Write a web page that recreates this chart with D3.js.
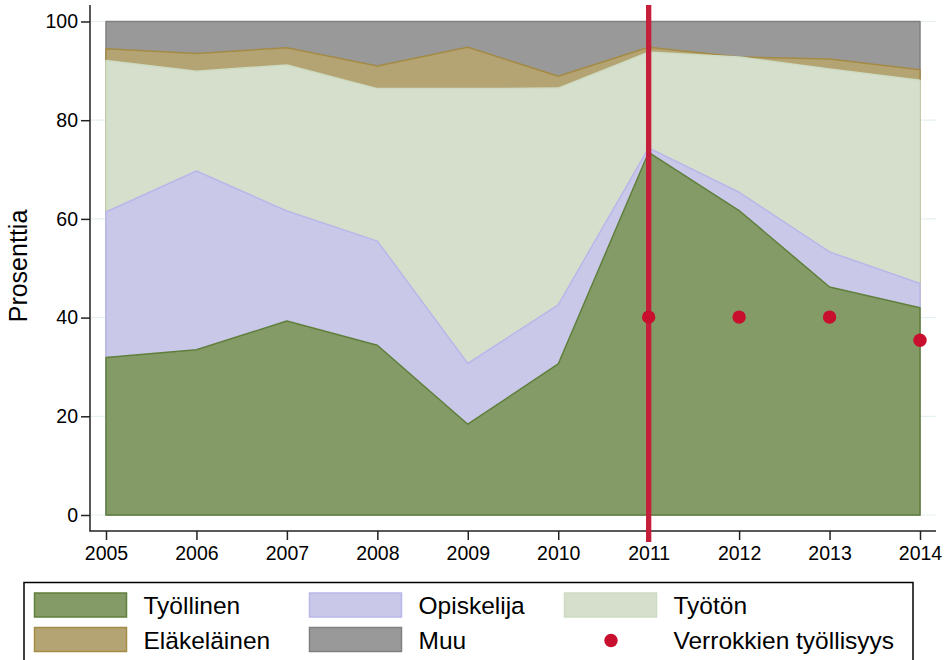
<!DOCTYPE html>
<html>
<head>
<meta charset="utf-8">
<script src="https://cdn.jsdelivr.net/npm/d3@7"></script>
<style>
  body { margin: 0; background: #fff; }
  text { font-family: "Liberation Sans", Arial, sans-serif; fill: #000; }
</style>
</head>
<body>
<svg id="chart" width="944" height="660"></svg>
<script>
// data
const years = [2005, 2006, 2007, 2008, 2009, 2010, 2011, 2012, 2013, 2014];
const tyollinen   = [31.9, 33.5, 39.3, 34.4, 18.4, 30.6, 73.5, 61.7, 46.2, 42.0];
const opiskelija  = [29.5, 36.2, 22.3, 21.1, 12.3, 12.0, 0.9, 3.7, 7.1, 4.9];
const tyoton      = [30.7, 20.2, 29.6, 30.9, 55.7, 43.9, 19.4, 27.4, 37.1, 41.2];
const elakelainen = [2.4, 3.6, 3.5, 4.6, 8.4, 2.4, 1.0, 0.0, 2.0, 2.1];
const muu         = [5.5, 6.5, 5.3, 9.0, 5.2, 11.1, 5.2, 7.2, 7.6, 9.8];

const verrokkiYears = [2011, 2012, 2013, 2014];
const verrokki = [40.1, 40.1, 40.1, 35.4];
const refYear = 2011;

const yTicks = [0, 20, 40, 60, 80, 100];

const series = [
  { key: "tyollinen", label: "Työllinen", values: tyollinen, fill: "#849b68", stroke: "#5f7f3b" },
  { key: "opiskelija", label: "Opiskelija", values: opiskelija, fill: "#c9c8e8", stroke: "#b9b7ea" },
  { key: "tyoton", label: "Työtön", values: tyoton, fill: "#d6dfcc", stroke: "#cddbc2" },
  { key: "elakelainen", label: "Eläkeläinen", values: elakelainen, fill: "#b5a473", stroke: "#a48b45" },
  { key: "muu", label: "Muu", values: muu, fill: "#999999", stroke: "#808080" }
];

const svg = d3.select("#chart");

const x = d3.scaleLinear().domain([2005, 2014]).range([106, 920]);
const y = d3.scaleLinear().domain([0, 100]).range([515, 21.5]);

// table for the stack
const table = years.map((yr, i) => {
  const row = { year: yr };
  series.forEach(s => row[s.key] = s.values[i]);
  return row;
});
const stacked = d3.stack().keys(series.map(s => s.key))(table);

// grid lines
svg.append("g").selectAll("line")
  .data(yTicks).enter().append("line")
  .attr("x1", 90).attr("x2", 936)
  .attr("y1", d => y(d)).attr("y2", d => y(d))
  .attr("stroke", "#e6eff1").attr("stroke-width", 1.2);

// areas, stata style: each goes from 0 to the cumulated value, drawn top one first
const area = d3.area()
  .x(d => x(d.data.year))
  .y0(y(0))
  .y1(d => y(d[1]));

const layers = stacked.map((st, i) => ({ st: st, s: series[i] })).reverse();
svg.append("g").selectAll("path")
  .data(layers).enter().append("path")
  .attr("d", d => area(d.st))
  .attr("fill", d => d.s.fill)
  .attr("stroke", d => d.s.stroke)
  .attr("stroke-width", 1.5)
  .attr("stroke-linejoin", "round");

// axes
const yAxis = d3.axisLeft(y).tickValues(yTicks).tickSize(9).tickPadding(3);
const gy = svg.append("g").attr("transform", "translate(90,0)").call(yAxis);
gy.select(".domain").attr("d", "M0,5V531").attr("stroke", "#222").attr("stroke-width", 1.5);

const xAxis = d3.axisBottom(x).tickValues(years).tickFormat(d3.format("d")).tickSize(9).tickPadding(6);
const gx = svg.append("g").attr("transform", "translate(0,531)").call(xAxis);
gx.select(".domain").attr("d", "M89.25,0H936").attr("stroke", "#222").attr("stroke-width", 1.5);

[gx, gy].forEach(g => {
  g.selectAll(".tick line").attr("stroke", "#222").attr("stroke-width", 1.5);
  g.selectAll(".tick text").style("font-size", "19.5px").attr("fill", "#000");
});

// y title
svg.append("text")
  .attr("transform", "translate(27,266) rotate(-90)")
  .attr("text-anchor", "middle")
  .style("font-size", "25px")
  .text("Prosenttia");

// reference line
svg.append("line")
  .attr("x1", x(refYear)).attr("x2", x(refYear))
  .attr("y1", 5).attr("y2", 542)
  .attr("stroke", "#c41e3a").attr("stroke-width", 5.3);

// verrokki dots
svg.append("g").selectAll("circle")
  .data(verrokkiYears).enter().append("circle")
  .attr("cx", d => x(d))
  .attr("cy", (d, i) => y(verrokki[i]))
  .attr("r", 6.7)
  .attr("fill", "#c8102e");

// legend
const legend = svg.append("g");
legend.append("rect")
  .attr("x", 24).attr("y", 582.5).attr("width", 889).attr("height", 90)
  .attr("fill", "#fff").attr("stroke", "#000").attr("stroke-width", 1.5);

const colX = [34.5, 309.5, 564.5];
const rowY = [593, 627.5];
const legendItems = [
  { s: series[0], col: 0, row: 0 },
  { s: series[1], col: 1, row: 0 },
  { s: series[2], col: 2, row: 0 },
  { s: series[3], col: 0, row: 1 },
  { s: series[4], col: 1, row: 1 }
];
legendItems.forEach(it => {
  legend.append("rect")
    .attr("x", colX[it.col]).attr("y", rowY[it.row])
    .attr("width", 92).attr("height", 24)
    .attr("fill", it.s.fill).attr("stroke", it.s.stroke).attr("stroke-width", 1.5);
  legend.append("text")
    .attr("x", colX[it.col] + 109).attr("y", rowY[it.row] + 21)
    .style("font-size", "24.5px")
    .text(it.s.label);
});
legend.append("circle")
  .attr("cx", 611).attr("cy", rowY[1] + 13).attr("r", 6.7)
  .attr("fill", "#c8102e");
legend.append("text")
  .attr("x", colX[2] + 109).attr("y", rowY[1] + 21)
  .style("font-size", "24.5px")
  .text("Verrokkien työllisyys");
</script>
</body>
</html>
